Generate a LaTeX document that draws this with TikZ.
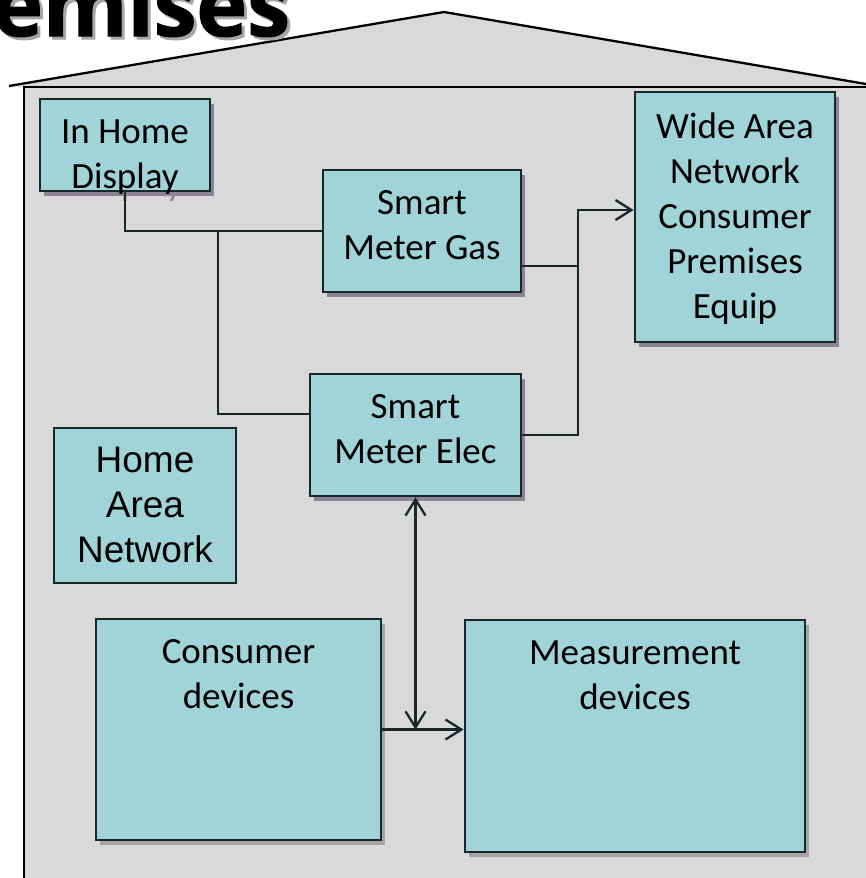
\documentclass[tikz,border=0pt]{standalone}
\usepackage{fontspec}
\usepackage{tikz}
\usetikzlibrary{arrows.meta, positioning, shadows}
\newfontfamily\boxfont{Carlito}
\newfontfamily\hanfont{Liberation Sans}
\newfontfamily\titlefont{Open Sans}[BoldFeatures={FakeBold=1.5}]
\definecolor{wallgray}{RGB}{217,217,217}
\definecolor{boxteal}{RGB}{160,212,216}
\definecolor{edgedark}{RGB}{24,40,40}
\definecolor{shadowpurple}{RGB}{140,132,150}
\definecolor{shadowgray}{RGB}{165,165,165}

\begin{document}
\begin{tikzpicture}[x=1pt, y=-1pt, >={Straight Barb[length=16pt, width=20pt]}]
		\tikzset{
			block/.style = {draw=edgedark, line width=2.8pt, fill=boxteal, inner sep=0pt},
			pshadow/.style = {drop shadow={shadow xshift=4pt, shadow yshift=-5pt, fill=shadowpurple, opacity=1}},
			gshadow/.style = {drop shadow={shadow xshift=4pt, shadow yshift=-5pt, fill=shadowgray, opacity=1}},
			txt/.style = {align=center, inner sep=0pt, font={\boxfont\fontsize{37pt}{45pt}\selectfont}},
			hantxt/.style = {align=center, inner sep=0pt, font={\hanfont\fontsize{37pt}{45pt}\selectfont}},
			title/.style = {anchor=base west, inner sep=0pt, font={\titlefont\bfseries\fontsize{86pt}{96pt}\selectfont}},
			line/.style = {draw=edgedark, line width=2.3pt},
		}
		\useasboundingbox (0,0) rectangle (865,878);

		%house
		\fill[wallgray] (9,86) -- (444,12) -- (866,84) -- (866,879) -- (24,879) -- (24,87) -- cycle;
		\draw[line width=2.3pt] (9,86) -- (444,12) -- (866,84);
		\draw[line width=2.3pt] (866,87) -- (24,87) -- (24,880);

		%title (cut off at the top)
		\node (ttlshadow) [title, text=black!35] at (-5,39) {emises};
		\node (ttl) [title] at (-8,36) {emises};

		%nodes
		\node (ihdghost) [txt, text=shadowpurple, anchor=north] at (129,127) {In Home\\Display};
		\node (ihd) [block, pshadow, minimum width=170pt, minimum height=92pt] at (125,145) {};
		\node (ihdtxt) [txt, below=22pt of ihd.north] {In Home\\Display};

		\node (gas) [block, pshadow, minimum width=198pt, minimum height=122pt] at (422,231) {};
		\node (gastxt) [txt, below=22pt of gas.north] {Smart\\Meter Gas};

		\node (wan) [block, pshadow, minimum width=200pt, minimum height=250pt] at (735,217) {};
		\node (wantxt) [txt, below=22pt of wan.north] {Wide Area\\Network\\Consumer\\Premises\\Equip};

		\node (elec) [block, pshadow, minimum width=211pt, minimum height=122pt] at (415.5,435) {};
		\node (electxt) [txt, below=22pt of elec.north] {Smart\\Meter Elec};

		\node (han) [block, minimum width=182pt, minimum height=155pt] at (145,505.5) {};
		\node (hantxt) [hantxt, below=20pt of han.north] {Home\\Area\\Network};

		\node (cons) [block, gshadow, minimum width=285pt, minimum height=221pt] at (238.5,729.5) {};
		\node (constxt) [txt, below=22pt of cons.north] {Consumer\\devices};

		\node (meas) [block, gshadow, minimum width=340pt, minimum height=232pt] at (635,736) {};
		\node (meastxt) [txt, below=22pt of meas.north] {Measurement\\devices};

		\coordinate (hjn) at (218,231);  %% branch down to the elec meter
		\coordinate (wjn) at (578,210);  %% riser up to the WAN box

		\draw[line] (ihd.south) |- (gas.west);
		\draw[line] (hjn) |- ([yshift=21pt]elec.west);
		\draw[line] ([yshift=-35pt]gas.east) -- ([yshift=-35pt]gas.east -| wjn);
		\draw[line, ->] (elec.east) -| (wjn) -- ([yshift=7pt]wan.west);
		\draw[line, <->] (elec.south) -- (elec.south |- cons.east);
		\draw[line, ->] (cons.east) -- (meas.west |- cons.east);

	\end{tikzpicture}
\end{document}
